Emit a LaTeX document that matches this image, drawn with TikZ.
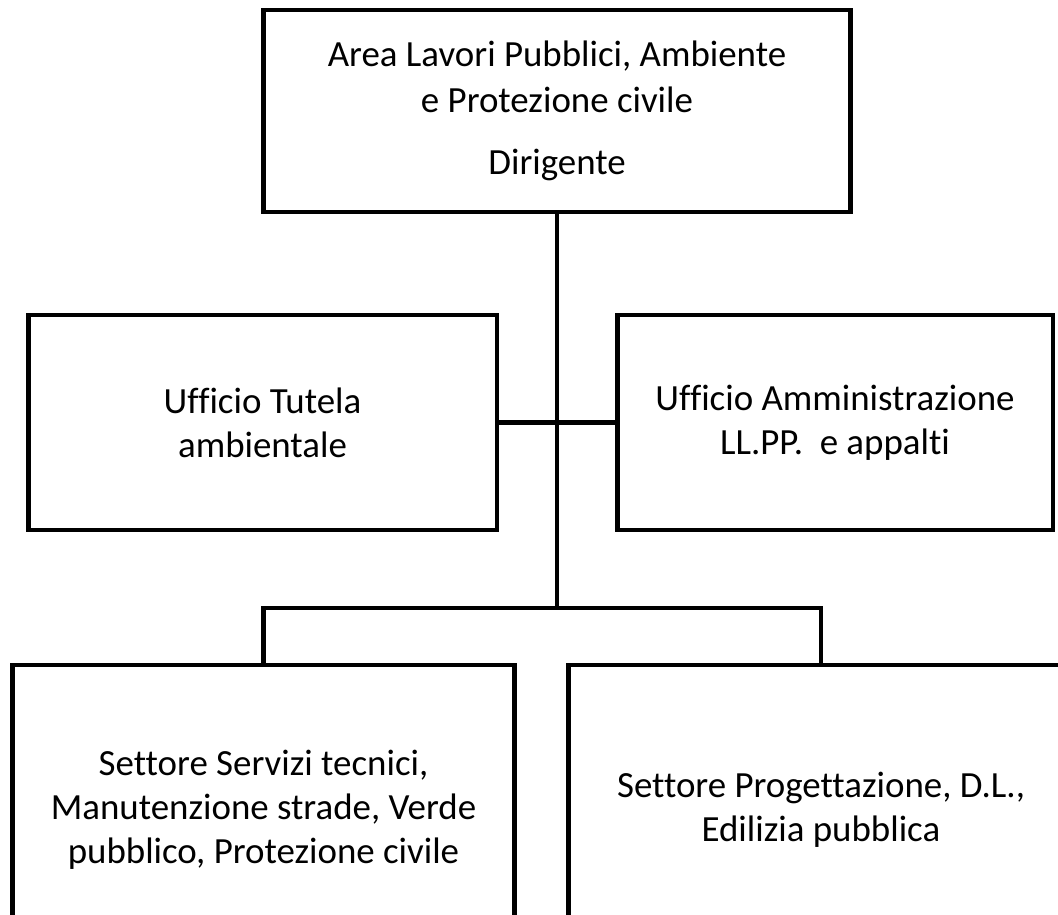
\documentclass[tikz,border=0pt]{standalone}
\usepackage{fontspec}
\setmainfont{Carlito}[Ligatures=NoCommon]
\usetikzlibrary{positioning}

\begin{document}
\begin{tikzpicture}[x=0.02cm,y=-0.02cm]
		\clip (0,0) rectangle (1058,915);

		\begin{scope}[every node/.style={rectangle,draw,line width=2.8pt,align=center,inner sep=0pt,
				font=\fontsize{21pt}{25pt}\selectfont}]
			\node[minimum width=11.76cm,minimum height=4.04cm,font=\fontsize{21pt}{26pt}\selectfont] (top) at (557,111)
				{Area Lavori Pubblici, Ambiente\\e Protezione civile\\[9.6pt]Dirigente};

			\node[minimum width=9.38cm,minimum height=4.3cm] (ml) at (262.5,422.5) {Ufficio Tutela\\ambientale};
			\node[minimum width=8.72cm,minimum height=4.3cm] (mr) at (835,422.5) {Ufficio Amministrazione\\LL.PP.\ \ e appalti};

			\node[minimum width=10.06cm,minimum height=5.8cm] (bl) at (263.5,810)
				{Settore Servizi tecnici,\\Manutenzione strade, Verde\\pubblico, Protezione civile};
			\node[minimum width=10.12cm,minimum height=5.8cm] (br) at (821,810)
				{Settore Progettazione, D.L.,\\Edilizia pubblica};
		\end{scope}

		\coordinate (bus) at (557,608);

		\begin{scope}[line width=2.3pt]
			\path (top) edge node {} (bus);
			\path (ml) edge node {} (mr);
			\draw (bl.north) |- (bus) -| (br.north);
		\end{scope}
	\end{tikzpicture}
\end{document}
